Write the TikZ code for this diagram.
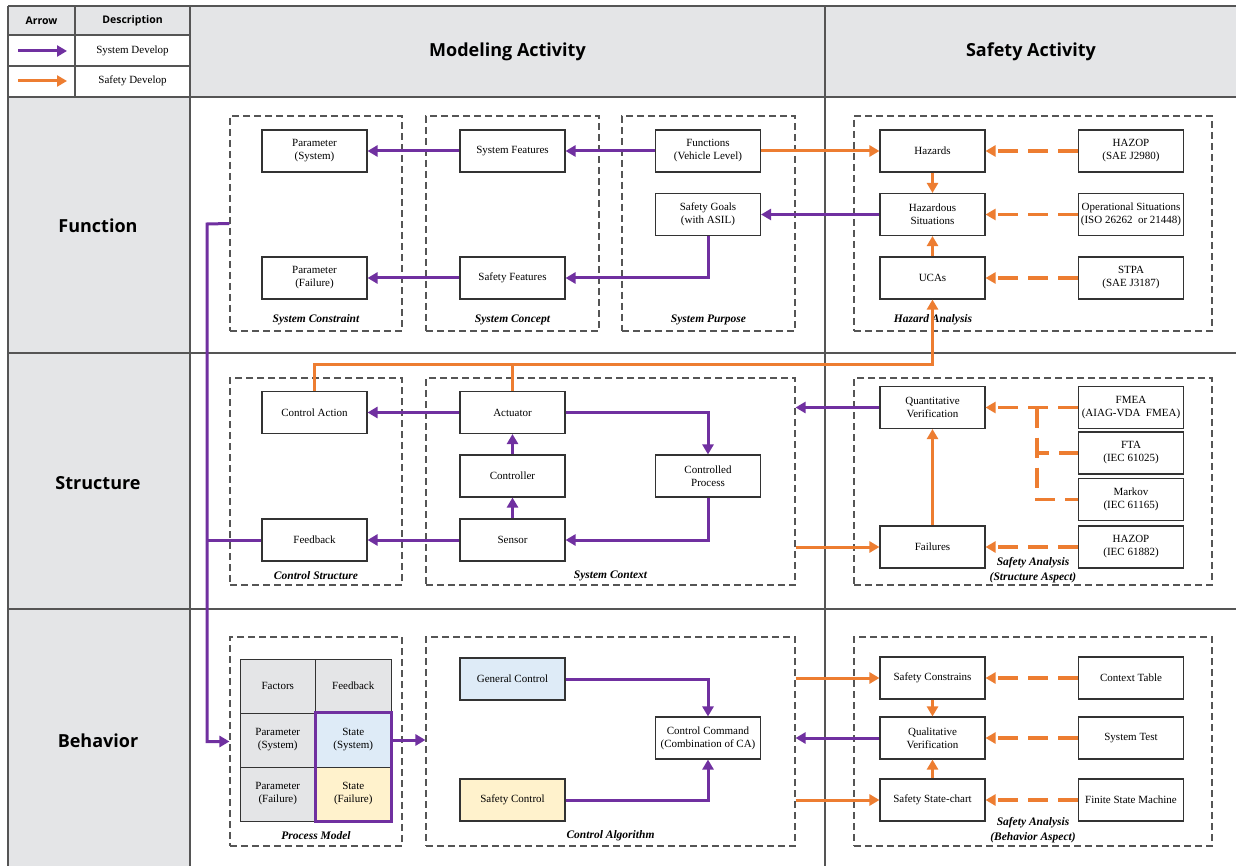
\documentclass[tikz,border=0pt]{standalone}
\usepackage{fontspec}
\setmainfont{Liberation Serif}
\newfontfamily\hfont{Open Sans}
\usetikzlibrary{arrows.meta}
\definecolor{sysc}{HTML}{7030A0}
\definecolor{safc}{HTML}{ED7D31}
\definecolor{hdr}{HTML}{E4E5E7}
\definecolor{gridc}{HTML}{555555}
\definecolor{boxc}{HTML}{333333}
\definecolor{lblue}{HTML}{DEEBF7}
\definecolor{lyel}{HTML}{FFF2CC}
\newcommand{\btxt}{\fontsize{11}{13}\selectfont}
\begin{document}
\begin{tikzpicture}[x=1pt,y=-1pt,
  gridl/.style={draw=gridc, line width=1.4pt},
  box/.style={draw=boxc, line width=1.1pt, fill=white, minimum width=105pt, minimum height=42pt, inner sep=1pt, align=center, font=\btxt},
  cell/.style={draw=boxc, line width=1pt, fill=hdr, minimum width=75.5pt, minimum height=54pt, inner sep=0pt, align=center, font=\btxt},
  group/.style={draw=gridc, line width=1.1pt, dash pattern=on 7pt off 4pt, inner sep=0pt},
  glabel/.style={font=\bfseries\itshape\fontsize{11.5}{15}\selectfont, align=center, inner sep=0pt},
  hdrtxt/.style={font=\hfont\bfseries\fontsize{18}{21}\selectfont},
  legtxt/.style={font=\hfont\bfseries\fontsize{10.5}{12}\selectfont},
  tip/.style={-{Triangle[length=10pt,width=11pt]}},
  sysline/.style={draw=sysc, line width=3pt},
  sysarr/.style={sysline, tip},
  safline/.style={draw=safc, line width=3pt},
  safarr/.style={safline, tip},
  safdl/.style={draw=safc, line width=3.4pt, dash pattern=on 20pt off 10pt},
  safdash/.style={safdl, tip}
]
\useasboundingbox (0,0) rectangle (1236,866);
% ---------- frame ----------
\fill[white] (0,0) rectangle (1236,866);
\fill[hdr] (8,6) rectangle (190,35);
\fill[hdr] (190,6) rectangle (1236,97);
\fill[hdr] (8,97) rectangle (190,866);
\draw[gridl] (8,6) -- (1236,6);
\draw[gridl] (8,6) -- (8,866);
\draw[gridl] (75,6) -- (75,97);
\draw[gridl] (190,6) -- (190,866);
\draw[gridl] (825,6) -- (825,866);
\draw[gridl] (8,35) -- (190,35);
\draw[gridl] (8,66) -- (190,66);
\draw[gridl] (8,97) -- (1236,97);
\draw[gridl] (8,353) -- (1236,353);
\draw[gridl] (8,609) -- (1236,609);
% ---------- legend ----------
\node[legtxt] (lArrow) at (41.5,20.5) {Arrow};
\node[legtxt] (lDesc) at (132.5,20.5) {Description};
\coordinate (ls1) at (18,51);
\coordinate (le1) at (67,51);
\coordinate (ls2) at (18,81);
\coordinate (le2) at (67,81);
\draw[sysarr] (ls1) -- (le1);
\draw[safarr] (ls2) -- (le2);
\node[font=\btxt] (lSys) at (132.5,51) {System Develop};
\node[font=\btxt] (lSaf) at (132.5,81) {Safety Develop};
% ---------- headers ----------
\node[hdrtxt] (hMA) at (507.5,52) {Modeling Activity};
\node[hdrtxt] (hSA) at (1031,52) {Safety Activity};
\node[hdrtxt] (hF) at (98,226) {Function};
\node[hdrtxt] (hS) at (98,483) {Structure};
\node[hdrtxt] (hB) at (98,741) {Behavior};
% ---------- groups ----------
\node[group, minimum width=172pt, minimum height=215pt] (gSC) at (316,223.5) {};
\node[group, minimum width=173pt, minimum height=215pt] (gCo) at (512.5,223.5) {};
\node[group, minimum width=173pt, minimum height=215pt] (gSP) at (708.5,223.5) {};
\node[group, minimum width=358pt, minimum height=215pt] (gHA) at (1033,223.5) {};
\node[group, minimum width=172pt, minimum height=207pt] (gCS) at (316,481.5) {};
\node[group, minimum width=369pt, minimum height=207pt] (gCtx) at (610.5,481.5) {};
\node[group, minimum width=358pt, minimum height=207pt] (gSA1) at (1033,481.5) {};
\node[group, minimum width=172pt, minimum height=209pt] (gPM) at (316,741.5) {};
\node[group, minimum width=369pt, minimum height=209pt] (gCA) at (610.5,741.5) {};
\node[group, minimum width=358pt, minimum height=209pt] (gSA2) at (1033,741.5) {};
\node[glabel] (tSC) at (316,320) {System Constraint};
\node[glabel] (tCo) at (512.5,320) {System Concept};
\node[glabel] (tSP) at (708.5,320) {System Purpose};
\node[glabel] (tHA) at (933,320) {Hazard Analysis};
\node[glabel] (tCS) at (316,576) {Control Structure};
\node[glabel] (tCtx) at (610.5,576) {System Context};
\node[glabel] (tSA1) at (1033,570) {Safety Analysis\\(Structure Aspect)};
\node[glabel] (tPM) at (316,836) {Process Model};
\node[glabel] (tCA) at (610.5,836) {Control Algorithm};
\node[glabel] (tSA2) at (1033,830) {Safety Analysis\\(Behavior Aspect)};
% ---------- function row ----------
\node[box] (parsys) at (314.5,151) {Parameter\\(System)};
\node[box] (parfail) at (314.5,278) {Parameter\\(Failure)};
\node[box] (sysfeat) at (512.5,151) {System Features};
\node[box] (saffeat) at (512.5,278) {Safety Features};
\node[box] (funcs) at (708,151) {Functions\\(Vehicle Level)};
\node[box] (safgoals) at (708,214.5) {Safety Goals\\(with ASIL)};
\node[box] (hazards) at (932.5,151) {Hazards};
\node[box] (hazsit) at (932.5,214.5) {Hazardous\\Situations};
\node[box] (ucas) at (932.5,278) {UCAs};
\node[box] (hazop1) at (1131,151) {HAZOP\\(SAE J2980)};
\node[box, inner sep=0pt] (opsit) at (1131,214.5) {Operational Situations\\(ISO 26262 \ or 21448)};
\node[box] (stpa) at (1131,278) {STPA\\(SAE J3187)};
% ---------- structure row ----------
\node[box] (ctrlact) at (314.5,412.5) {Control Action};
\node[box] (feedback) at (314.5,540) {Feedback};
\node[box] (actuator) at (512.5,412.5) {Actuator};
\node[box] (controller) at (512.5,476) {Controller};
\node[box] (sensor) at (512.5,540) {Sensor};
\node[box] (ctrlproc) at (708,476) {Controlled\\Process};
\node[box] (qv) at (932.5,407.5) {Quantitative\\Verification};
\node[box] (failures) at (932.5,547) {Failures};
\node[box] (fmea) at (1131,407.5) {FMEA\\(AIAG-VDA \ FMEA)};
\node[box] (fta) at (1131,453) {FTA\\(IEC 61025)};
\node[box] (markov) at (1131,499.5) {Markov\\(IEC 61165)};
\node[box] (hazop2) at (1131,547) {HAZOP\\(IEC 61882)};
% ---------- behavior row ----------
\node[cell] (factors) at (277.75,686) {Factors};
\node[cell] (fbcell) at (353.25,686) {Feedback};
\node[cell] (parsys2) at (277.75,740) {Parameter\\(System)};
\node[cell, fill=lblue] (statesys) at (353.25,740) {State\\(System)};
\node[cell] (parfail2) at (277.75,794) {Parameter\\(Failure)};
\node[cell, fill=lyel] (statefail) at (353.25,794) {State\\(Failure)};
\draw[draw=sysc, line width=3pt] (statesys.north west) rectangle (statefail.south east);
\node[box, fill=lblue] (genctrl) at (512.5,679) {General Control};
\node[box, fill=lyel] (safctrl) at (512.5,800) {Safety Control};
\node[box, inner sep=0pt] (ctrlcmd) at (708,738) {Control Command\\(Combination of CA)};
\node[box] (safcons) at (932.5,678) {Safety Constrains};
\node[box] (qualv) at (932.5,738) {Qualitative\\Verification};
\node[box] (statechart) at (932.5,800) {Safety State-chart};
\node[box] (ctxtab) at (1131,678) {Context Table};
\node[box] (systest) at (1131,738) {System Test};
\node[box, inner sep=0pt] (fsm) at (1131,800) {Finite State Machine};
% ---------- function connectors ----------
\draw[sysarr] (funcs.west) -- (sysfeat.east);
\draw[sysarr] (sysfeat.west) -- (parsys.east);
\draw[safarr] (funcs.east) -- (hazards.west);
\draw[safdash] (hazop1.west) -- (hazards.east);
\draw[safarr] (hazards.south) -- (hazsit.north);
\draw[safarr] (ucas.north) -- (hazsit.south);
\draw[safdash] (opsit.west) -- (hazsit.east);
\draw[safdash] (stpa.west) -- (ucas.east);
\draw[sysarr] (hazsit.west) -- (safgoals.east);
\draw[sysarr] (safgoals.south) |- (saffeat.east);
\draw[sysarr] (saffeat.west) -- (parfail.east);
% purple bus on the left
\coordinate (bus) at (207,224);
\draw[sysarr] (gSC.west) -- (bus) |- (gPM.west);
\draw[sysline] (feedback.west) -- (feedback.west -| bus);
% orange line to UCAs
\coordinate (ob) at (0,364);
\draw[safarr] (ctrlact.north) |- (ucas.south |- ob) -- (ucas.south);
\draw[safline] (actuator.north) -- (actuator.north |- ob);
% ---------- structure connectors ----------
\draw[sysarr] (actuator.west) -- (ctrlact.east);
\draw[sysarr] (controller.north) -- (actuator.south);
\draw[sysarr] (sensor.north) -- (controller.south);
\draw[sysarr] (actuator.east) -| (ctrlproc.north);
\draw[sysarr] (ctrlproc.south) |- (sensor.east);
\draw[sysarr] (sensor.west) -- (feedback.east);
\draw[sysarr] (qv.west) -- (qv.west -| gCtx.east);
\draw[safarr] (failures.west -| gCtx.east) -- (failures.west);
\draw[safarr] (failures.north) -- (qv.south);
\draw[safdash] (hazop2.west) -- (failures.east);
\draw[safdash] (fmea.west) -- (qv.east);
\coordinate (fork) at (1037,407.5);
\draw[safdl] (fork) |- (markov.west);
\draw[safdl, dash phase=8pt] (fork |- fta.west) -- (fta.west);
% ---------- behavior connectors ----------
\draw[sysarr] (statesys.east) -- (statesys.east -| gCA.west);
\draw[sysarr] (genctrl.east) -| (ctrlcmd.north);
\draw[sysarr] (safctrl.east) -| (ctrlcmd.south);
\draw[safarr] (safcons.west -| gCA.east) -- (safcons.west);
\draw[safarr] (statechart.west -| gCA.east) -- (statechart.west);
\draw[sysarr] (qualv.west) -- (qualv.west -| gCA.east);
\draw[safarr] (safcons.south) -- (qualv.north);
\draw[safarr] (statechart.north) -- (qualv.south);
\draw[safdash] (ctxtab.west) -- (safcons.east);
\draw[safdash] (systest.west) -- (qualv.east);
\draw[safdash] (fsm.west) -- (statechart.east);
\end{tikzpicture}
\end{document}
